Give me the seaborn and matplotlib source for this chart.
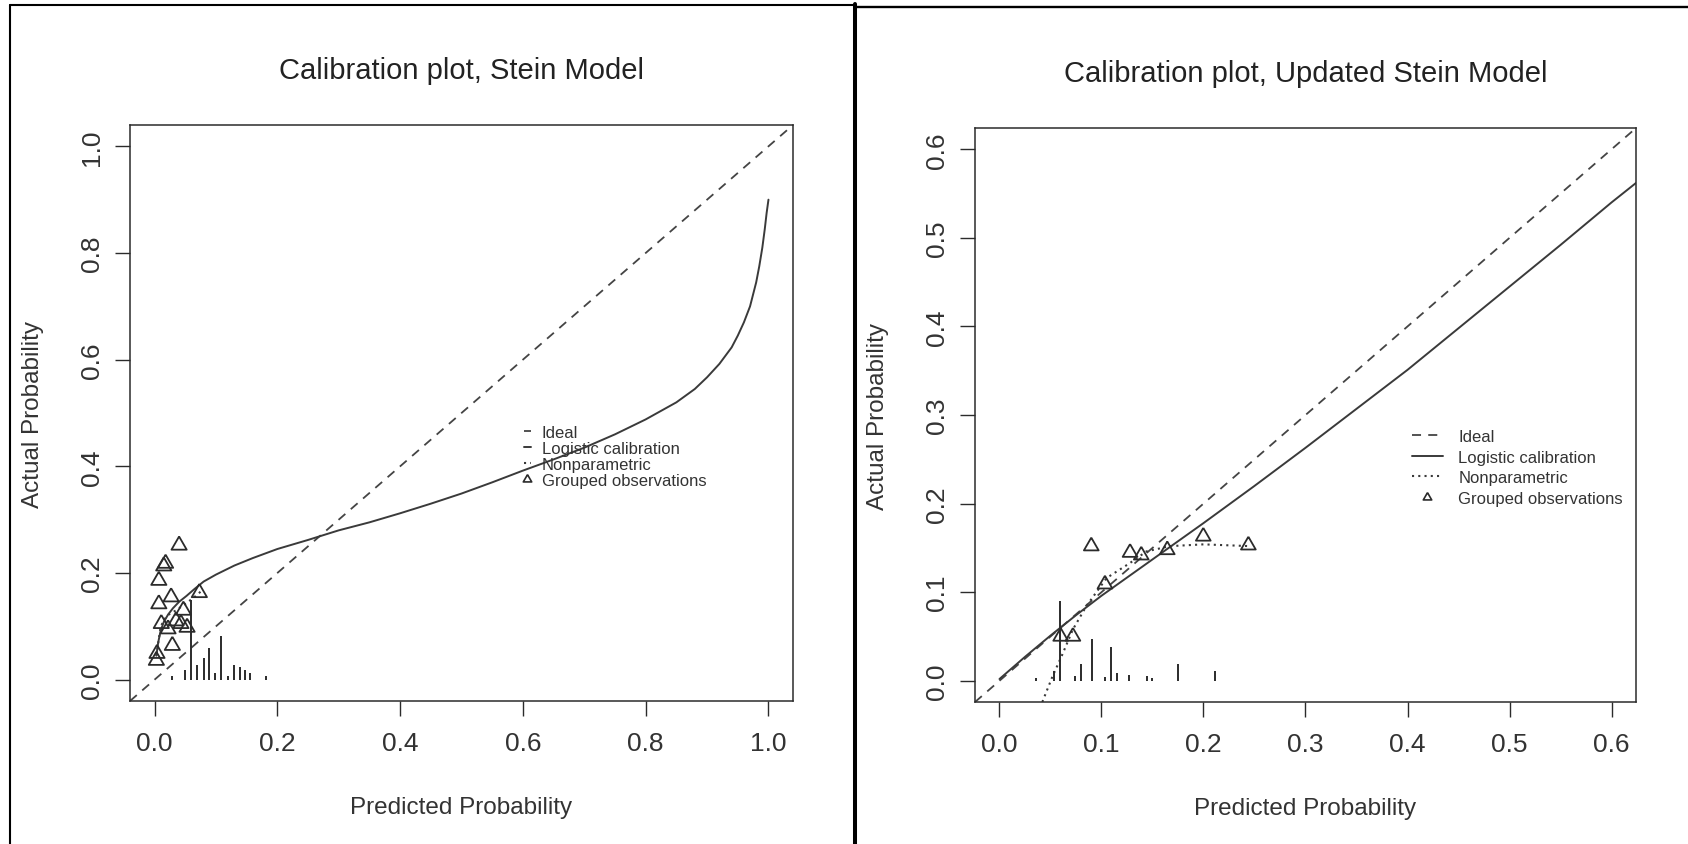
import numpy as np
import pandas as pd
import seaborn as sns
import matplotlib.pyplot as plt
from matplotlib.lines import Line2D

sns.set_theme(style='white')
plt.rcParams['font.family'] = ['Liberation Sans', 'DejaVu Sans']

# ---- left panel: Stein Model ----
stein_ideal = [-0.04, 1.04]
stein_logit_x = [0.003, 0.006, 0.01, 0.015, 0.022, 0.03, 0.04, 0.052, 0.065, 0.08, 0.1,
                 0.13, 0.16, 0.2, 0.25, 0.3, 0.35, 0.4, 0.45, 0.5, 0.55, 0.6, 0.65, 0.7,
                 0.75, 0.8, 0.85, 0.88, 0.9, 0.92, 0.94, 0.95, 0.96, 0.97, 0.98, 0.985,
                 0.99, 0.994, 0.997, 1.0]
stein_logit_y = [0.045, 0.07, 0.092, 0.108, 0.122, 0.134, 0.146, 0.157, 0.17, 0.184, 0.197,
                 0.214, 0.228, 0.245, 0.262, 0.28, 0.295, 0.312, 0.33, 0.349, 0.37, 0.392,
                 0.413, 0.435, 0.46, 0.488, 0.52, 0.545, 0.567, 0.592, 0.623, 0.645, 0.67,
                 0.70, 0.745, 0.775, 0.81, 0.845, 0.875, 0.90]
stein_np_x = [0.003, 0.01, 0.02, 0.035, 0.05, 0.065, 0.075]
stein_np_y = [0.045, 0.10, 0.12, 0.13, 0.142, 0.155, 0.165]
stein_obs_x = [0.040, 0.015, 0.018, 0.007, 0.027, 0.007, 0.073, 0.047, 0.053, 0.011,
               0.035, 0.022, 0.029, 0.004, 0.003, 0.043]
stein_obs_y = [0.252, 0.213, 0.218, 0.186, 0.155, 0.142, 0.163, 0.130, 0.098, 0.105,
               0.110, 0.095, 0.064, 0.049, 0.036, 0.105]
stein_spike_x = [0.029, 0.049, 0.059, 0.069, 0.080, 0.088, 0.099, 0.109, 0.119, 0.130,
                 0.139, 0.148, 0.156, 0.181]
stein_spike_h = [0.006, 0.018, 0.15, 0.028, 0.04, 0.06, 0.013, 0.082, 0.006, 0.028,
                 0.023, 0.018, 0.013, 0.006]
stein_ticks = [0.0, 0.2, 0.4, 0.6, 0.8, 1.0]

# ---- right panel: Updated Stein Model ----
upd_ideal = [-0.024, 0.624]
upd_logit_x = [0.0, 0.01, 0.025, 0.05, 0.075, 0.1, 0.15, 0.2, 0.25, 0.3, 0.35, 0.4,
               0.45, 0.5, 0.55, 0.6, 0.624]
upd_logit_y = [0.002, 0.012, 0.027, 0.051, 0.074, 0.096, 0.137, 0.178, 0.22, 0.263,
               0.307, 0.351, 0.398, 0.445, 0.492, 0.540, 0.562]
upd_np_x = [0.042, 0.052, 0.061, 0.072, 0.085, 0.105, 0.128, 0.144, 0.167, 0.2, 0.2456]
upd_np_y = [-0.024, 0.005, 0.028, 0.058, 0.084, 0.116, 0.133, 0.146, 0.152, 0.154, 0.152]
upd_obs_x = [0.060, 0.072, 0.090, 0.1034, 0.128, 0.139, 0.1645, 0.1998, 0.244]
upd_obs_y = [0.050, 0.050, 0.152, 0.109, 0.1447, 0.1417, 0.1477, 0.163, 0.153]
upd_spike_x = [0.0358, 0.0534, 0.0593, 0.074, 0.0796, 0.091, 0.1034, 0.109, 0.1149,
               0.127, 0.145, 0.150, 0.175, 0.211]
upd_spike_h = [0.003, 0.011, 0.090, 0.005, 0.019, 0.047, 0.004, 0.038, 0.009, 0.007,
               0.005, 0.003, 0.019, 0.011]
upd_ticks = [0.0, 0.1, 0.2, 0.3, 0.4, 0.5, 0.6]

legend_labels = ['Ideal', 'Logistic calibration', 'Nonparametric', 'Grouped observations']

ink = '#2b2b2b'
dash = (0, (5, 4))
dot = (0, (1, 2))
tri = [(0, 1), (-0.866, -0.5), (0.866, -0.5), (0, 1)]

fig = plt.figure(figsize=(16.88, 8.45), dpi=100, facecolor='white')
ax1 = fig.add_axes([0.0770, 0.1692, 0.3928, 0.6817])
ax2 = fig.add_axes([0.5776, 0.1680, 0.3916, 0.6793])


def panel(ax, ideal, lx, ly, nx, ny, ox, oy, sx, sh, ticks, title, msize):
    sns.lineplot(x=ideal, y=ideal, ax=ax, color='#444444', lw=1.3, linestyle=dash,
                 estimator=None, sort=False)
    sns.lineplot(x=lx, y=ly, ax=ax, color='#3a3a3a', lw=1.4, estimator=None, sort=False)
    sns.lineplot(x=nx, y=ny, ax=ax, color='#3a3a3a', lw=1.5, linestyle=dot,
                 estimator=None, sort=False)
    ax.vlines(sx, 0, sh, color=ink, lw=1.4)
    sns.scatterplot(x=ox, y=oy, ax=ax, marker=tri, s=msize, color=ink,
                    facecolor='none', edgecolor=ink, linewidth=1.3, zorder=5)
    ax.set_xlim(ideal)
    ax.set_ylim(ideal)
    ax.set_xticks(ticks)
    ax.set_yticks(ticks)
    ax.set_xticklabels([f'{t:.1f}' for t in ticks])
    ax.set_yticklabels([f'{t:.1f}' for t in ticks], rotation=90, va='center')
    ax.tick_params(axis='both', direction='out', length=10.8, width=1.0, color=ink,
                   labelsize=19, labelcolor='#333333', bottom=True, left=True)
    ax.tick_params(axis='x', pad=11)
    ax.tick_params(axis='y', pad=8)
    for s in ax.spines.values():
        s.set_color(ink)
        s.set_linewidth(1.1)
        s.set_visible(True)
    ax.set_xlabel('Predicted Probability', fontsize=17.5, color='#333333', labelpad=29)
    ax.set_ylabel('Actual Probability', fontsize=17.5, color='#333333', labelpad=26)
    ax.set_title(title, fontsize=21, color='#222222', pad=34)


panel(ax1, stein_ideal, stein_logit_x, stein_logit_y, stein_np_x, stein_np_y,
      stein_obs_x, stein_obs_y, stein_spike_x, stein_spike_h, stein_ticks,
      'Calibration plot, Stein Model', 160)
panel(ax2, upd_ideal, upd_logit_x, upd_logit_y, upd_np_x, upd_np_y,
      upd_obs_x, upd_obs_y, upd_spike_x, upd_spike_h, upd_ticks,
      'Calibration plot, Updated Stein Model', 150)


def handles():
    return [Line2D([], [], color='#444444', lw=1.3, linestyle=dash),
            Line2D([], [], color='#3a3a3a', lw=1.4),
            Line2D([], [], color='#3a3a3a', lw=1.5, linestyle=dot),
            Line2D([], [], marker=tri, ls='none', mfc='none', mec=ink, ms=7, mew=1.2)]


ax1.legend(handles=handles(), labels=legend_labels, loc='upper left',
           bbox_to_anchor=(0.601, 0.478), bbox_transform=ax1.transData,
           frameon=False, fontsize=12, handlelength=0.45, handletextpad=0.65,
           labelspacing=0.07, borderpad=0, borderaxespad=0, labelcolor='#333333')
ax2.legend(handles=handles(), labels=legend_labels, loc='upper left',
           bbox_to_anchor=(0.404, 0.284), bbox_transform=ax2.transData,
           frameon=False, fontsize=12, handlelength=1.9, handletextpad=0.9,
           labelspacing=0.33, borderpad=0, borderaxespad=0, labelcolor='#333333')

# panel frames of the two pasted images
W, H = 1688.0, 845.0
def frame(x0, y0, x1, y1, lw):
    fig.add_artist(Line2D([x0 / W, x1 / W], [1 - y0 / H, 1 - y1 / H],
                          transform=fig.transFigure, color='black', lw=lw))

frame(9.5, 6, 9.5, 845, 1.5)
frame(9.5, 6, 855, 6, 1.5)
frame(854.7, 5, 854.7, 845, 2.9)
frame(855, 7.8, 1688, 7.8, 1.7)

fig.savefig('out.png', dpi=100, facecolor='white')
